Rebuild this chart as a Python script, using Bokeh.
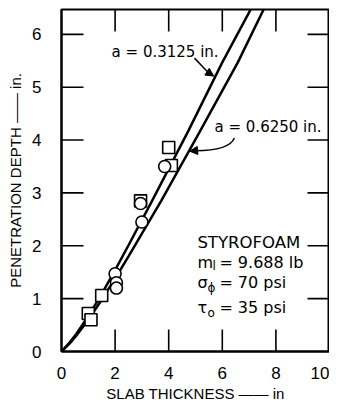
from bokeh.plotting import figure
from bokeh.models import Range1d, FixedTicker, Label, Arrow, NormalHead
from bokeh.embed import file_html
from bokeh.resources import INLINE

FONT = "Liberation Sans"
LFONT = "DejaVu Sans"

# Data
sq_x = [1.0, 1.1, 1.5, 2.95, 4.0, 4.1]
sq_y = [0.72, 0.6, 1.06, 2.85, 3.86, 3.52]
ci_x = [2.0, 2.05, 2.05, 3.0, 2.95, 3.85]
ci_y = [1.47, 1.3, 1.2, 2.45, 2.8, 3.5]

# Curve a = 0.3125 in.
l1_x = [0.0, 0.3, 0.55, 1.0, 1.5, 2.0, 2.5, 3.35, 4.71, 6.0, 7.09]
l1_y = [0.0, 0.17, 0.33, 0.67, 1.09, 1.54, 2.01, 2.82, 4.15, 5.47, 6.5]
# Curve a = 0.6250 in.
l2_x = [0.0, 0.3, 0.55, 1.0, 1.5, 2.0, 2.5, 3.0, 3.72, 5.15, 6.58, 7.57]
l2_y = [0.0, 0.15, 0.30, 0.60, 0.98, 1.38, 1.80, 2.23, 2.85, 4.15, 5.47, 6.5]

x_ticks = [0, 2, 4, 6, 8, 10]
y_ticks = [0, 1, 2, 3, 4, 5, 6]

X0, X1 = 0.0, 10.0
Y0, Y1 = 0.0, 6.47
FW, FH = 268, 342

p = figure(output_backend="svg", toolbar_location=None,
           frame_width=FW, frame_height=FH,
           min_border_left=61, min_border_right=0, min_border_top=9, min_border_bottom=38,
           x_range=Range1d(X0, X1), y_range=Range1d(Y0, Y1))
p.background_fill_color = "white"
p.border_fill_color = "white"
p.grid.visible = False
p.outline_line_color = "black"
p.outline_line_width = 2

for ax in [p.xaxis[0], p.yaxis[0]]:
    ax.axis_line_width = 2
    ax.major_tick_line_color = None
    ax.minor_tick_line_color = None
    ax.major_label_text_font = FONT
    ax.major_label_text_font_size = "17px"
    ax.major_label_text_color = "black"
    ax.axis_label_text_font = FONT
    ax.axis_label_text_font_style = "normal"
    ax.axis_label_text_color = "black"

p.xaxis[0].ticker = FixedTicker(ticks=x_ticks)
p.yaxis[0].ticker = FixedTicker(ticks=y_ticks)
p.xaxis[0].major_label_standoff = 9
p.yaxis[0].major_label_standoff = 14
p.xaxis[0].axis_label = "SLAB THICKNESS \u2014\u2014 in"
p.yaxis[0].axis_label = "PENETRATION DEPTH \u2014\u2014 in."
p.xaxis[0].axis_label_text_font_size = "15px"
p.yaxis[0].axis_label_text_font_size = "15px"
p.xaxis[0].axis_label_standoff = 3
p.yaxis[0].axis_label_standoff = 5

# inward ticks on all four sides, 22 px long
TICK_PX = 22
tx = (X1 - X0) * TICK_PX / FW
ty = (Y1 - Y0) * TICK_PX / FH
inner_x = [float(t) for t in x_ticks if X0 < t < X1]
inner_y = [float(t) for t in y_ticks if Y0 < t < Y1]
for t in inner_x:
    p.line([t, t], [Y0, Y0 + ty], line_color="black", line_width=1.6)
    p.line([t, t], [Y1, Y1 - ty], line_color="black", line_width=1.6)
for t in inner_y:
    p.line([X0, X0 + tx], [t, t], line_color="black", line_width=1.6)
    p.line([X1, X1 - tx], [t, t], line_color="black", line_width=1.6)

p.line(l1_x, l1_y, line_color="black", line_width=2.5)
p.line(l2_x, l2_y, line_color="black", line_width=2.5)

p.scatter(sq_x, sq_y, marker="square", size=12, fill_color="white",
          line_color="black", line_width=1.6)
p.scatter(ci_x, ci_y, marker="circle", size=12, fill_color="white",
          line_color="black", line_width=1.6)

def lab(x, y, t, size="16px", dx=0, dy=0):
    p.add_layout(Label(x=x, y=y, text=t, text_font=LFONT, text_font_size=size,
                       text_color="black", text_baseline="middle", text_align="left",
                       x_offset=dx, y_offset=dy))

lab(1.87, 5.66, "a = 0.3125 in.", "15px")
lab(5.71, 4.24, "a = 0.6250 in.", "15px")
TX = 5.07
lab(TX, 2.06, "STYROFOAM", "16.5px")
lab(TX, 1.69, "m")
lab(TX, 1.69, "l", "12px", dx=15, dy=-4)
lab(TX, 1.69, "= 9.688 lb", dx=22)
lab(TX, 1.31, "\u03c3")
lab(TX, 1.31, "\u03d5", "12px", dx=10, dy=-6)
lab(TX, 1.31, "= 70 psi", dx=22)
lab(TX, 0.83, "\u03c4")
lab(TX, 0.83, "o", "12px", dx=10, dy=-5)
lab(TX, 0.83, "= 35 psi", dx=22)

# leader arrows
p.bezier(x0=[4.96], y0=[5.55], x1=[5.55], y1=[5.25], cx0=[5.2], cy0=[5.43],
         cx1=[5.4], cy1=[5.3], line_color="black", line_width=1.5)
p.add_layout(Arrow(end=NormalHead(size=8, fill_color="black", line_color="black"),
                   x_start=5.5, y_start=5.27, x_end=5.68, y_end=5.21,
                   line_color="black", line_width=1.5))
p.bezier(x0=[6.45], y0=[4.04], x1=[5.0], y1=[3.8], cx0=[6.3], cy0=[3.85],
         cx1=[5.6], cy1=[3.8], line_color="black", line_width=1.5)
p.add_layout(Arrow(end=NormalHead(size=8, fill_color="black", line_color="black"),
                   x_start=5.0, y_start=3.8, x_end=4.78, y_end=3.79,
                   line_color="black", line_width=1.5))

open("out.html", "w").write(file_html(p, INLINE))
